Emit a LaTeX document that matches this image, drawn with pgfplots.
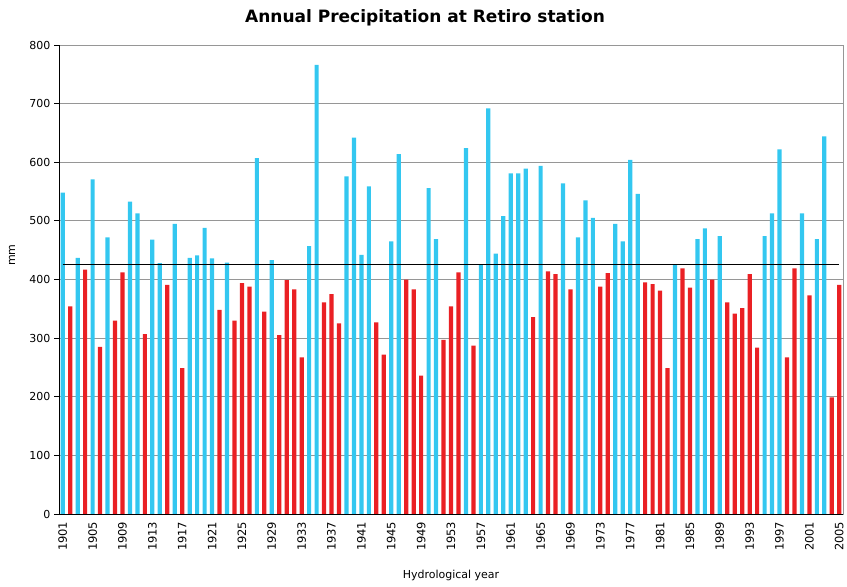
\documentclass[border=0pt]{standalone}
\usepackage{pgfplots}
\pgfplotsset{compat=1.18}
\usepackage{fontspec}
\setmainfont{DejaVu Sans}
\definecolor{barblue}{RGB}{51,199,240}
\definecolor{barred}{RGB}{234,32,36}
\definecolor{gridgray}{RGB}{150,150,150}

\begin{document}
\begin{tikzpicture}[x=1pt,y=1pt]
\useasboundingbox (0,0) rectangle (847,587);
\node[font=\bfseries\fontsize{17}{20}\selectfont] at (425,569) {Annual Precipitation at Retiro station};
\begin{axis}[
    at={(59pt,73pt)}, anchor=south west,
    scale only axis, width=784pt, height=469pt,
    xmin=1900.5, xmax=2005.5, ymin=0, ymax=800,
    ytick={0,100,...,800},
    xtick={1901,1905,...,2005},
    minor xtick={1900.5,1901.5,...,2005.5},
    tick pos=left, tick align=outside,
    major tick length=5pt, minor tick length=5pt,
    xtick style={draw=none},
    minor x tick style={black, line width=0.8pt},
    ytick style={black, line width=0.8pt},
    ymajorgrids, major grid style={gridgray, line width=1pt},
    axis line style={gridgray, line width=1pt},
    /pgf/number format/assume math mode=true,
    x tick label style={rotate=90, anchor=east, inner sep=1.5pt, xshift=-1pt,
      /pgf/number format/1000 sep={}, font=\fontsize{11.5}{13}\selectfont},
    y tick label style={font=\fontsize{11}{13}\selectfont},
    xlabel={Hydrological year}, ylabel={mm},
    label style={font=\fontsize{11}{13}\selectfont},
    xlabel style={at={(axis description cs:0.5,-0.130)}, anchor=center},
    ylabel style={at={(axis description cs:-0.060,0.552)}, anchor=center},
    after end axis/.code={
      \draw[black, line width=1pt] (rel axis cs:0,1) -- (rel axis cs:0,0) -- (rel axis cs:1,0);
    },
]
% above average
\addplot[ybar, bar width=4.2pt, bar shift=0pt, fill=barblue, draw=none] coordinates {
(1901,548) (1903,437) (1905,571) (1907,472) (1910,533) (1911,513) (1913,468)
(1914,428) (1916,495) (1918,437) (1919,441) (1920,488) (1921,436) (1923,429)
(1927,607) (1929,433) (1934,457) (1935,766) (1939,576) (1940,642) (1941,442)
(1942,559) (1945,465) (1946,614) (1950,556) (1951,469) (1955,624) (1957,426)
(1958,692) (1959,444) (1960,508) (1961,581) (1962,581) (1963,589) (1965,594)
(1968,564) (1970,472) (1971,535) (1972,505) (1975,495) (1976,465) (1977,604)
(1978,546) (1983,426) (1986,469) (1987,487) (1989,474) (1995,474) (1996,513)
(1997,622) (2000,513) (2002,469) (2003,644)
};
% below average
\addplot[ybar, bar width=4.2pt, bar shift=0pt, fill=barred, draw=none] coordinates {
(1902,354) (1904,417) (1906,285) (1908,330) (1909,412) (1912,307) (1915,391)
(1917,249) (1922,348) (1924,330) (1925,394) (1926,388) (1928,345) (1930,305)
(1931,399) (1932,383) (1933,267) (1936,361) (1937,375) (1938,325) (1943,327)
(1944,272) (1947,400) (1948,383) (1949,236) (1952,297) (1953,354) (1954,412)
(1956,287) (1964,336) (1966,414) (1967,409) (1969,383) (1973,388) (1974,411)
(1979,395) (1980,392) (1981,381) (1982,249) (1984,419) (1985,386) (1988,400)
(1990,361) (1991,342) (1992,351) (1993,409) (1994,284) (1998,267) (1999,419)
(2001,373) (2004,199) (2005,391)
};
% mean
\addplot[black, line width=1.3pt] coordinates {(1901,425) (2005,425)};
\end{axis}
\end{tikzpicture}
\end{document}
